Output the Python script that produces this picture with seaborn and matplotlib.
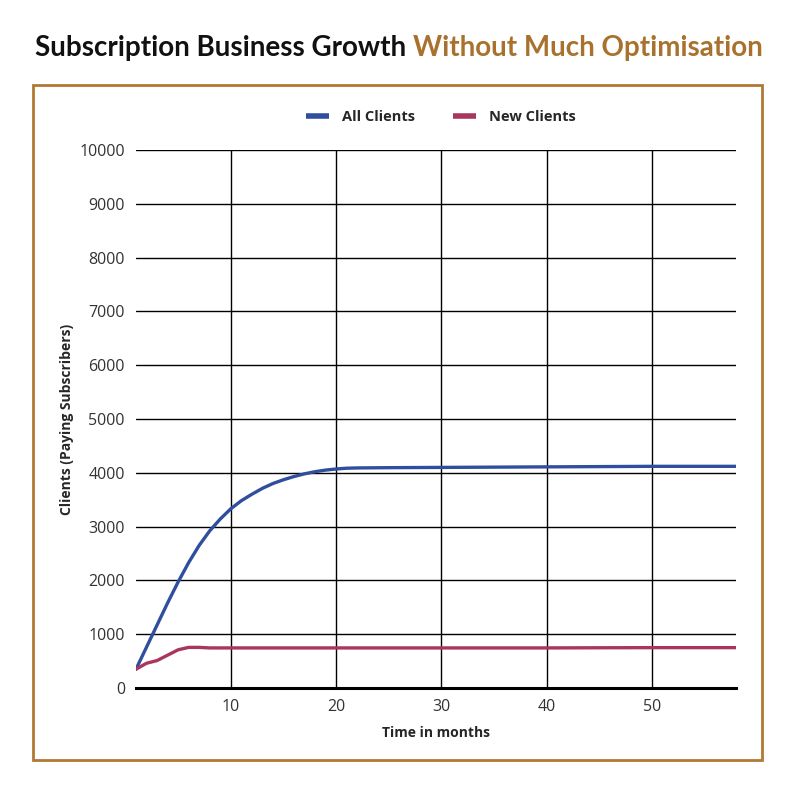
import numpy as np
import pandas as pd
import seaborn as sns
import matplotlib.pyplot as plt
from matplotlib.patches import Rectangle
from matplotlib.lines import Line2D

# Dados
meses = [1, 2, 3, 4, 5, 6, 7, 8, 9, 10, 11, 12, 13, 14, 15, 16, 17, 18, 19, 20,
         21, 22, 25, 30, 35, 40, 45, 50, 55, 58]
todos_clientes = [350, 760, 1170, 1580, 1970, 2330, 2650, 2920, 3140, 3330, 3480, 3600,
                  3710, 3800, 3870, 3930, 3980, 4020, 4050, 4070, 4085, 4090, 4095,
                  4100, 4105, 4110, 4115, 4120, 4120, 4120]
novos_clientes = [350, 460, 510, 610, 710, 755, 755, 745, 745, 745, 745, 745, 745, 745,
                  745, 745, 745, 745, 745, 745, 745, 745, 745, 745, 745, 745, 748,
                  750, 750, 750]

df = pd.DataFrame({
    "mes": meses * 2,
    "clientes": todos_clientes + novos_clientes,
    "serie": ["All Clients"] * len(meses) + ["New Clients"] * len(meses),
})

sns.set_style("white")
plt.rcParams["font.family"] = ["Open Sans", "DejaVu Sans"]

fig = plt.figure(figsize=(8, 7.93), dpi=100)
ax = fig.add_axes([0.17, 0.1324, 0.75, 0.6785])

cores = {"All Clients": "#2f4f9e", "New Clients": "#a8365e"}
sns.lineplot(data=df, x="mes", y="clientes", hue="serie", palette=cores,
             linewidth=2.4, ax=ax, legend=False)

ax.set_xlim(1, 58)
ax.set_ylim(0, 10000)
ax.set_xticks([10, 20, 30, 40, 50])
ax.set_yticks(range(0, 10001, 1000))
ax.grid(True, color="black", linewidth=1)
ax.set_axisbelow(True)
for lado in ["left", "right", "top"]:
    ax.spines[lado].set_visible(False)
ax.spines["bottom"].set_color("black")
ax.spines["bottom"].set_linewidth(2.2)
ax.tick_params(axis="both", length=0, labelsize=11.5, labelcolor="#333333", pad=8)
ax.set_xlabel("Time in months", fontsize=10, fontweight="bold", labelpad=8)
ax.set_ylabel("Clients (Paying Subscribers)", fontsize=10, fontweight="bold", labelpad=4)

# Legenda
handles = [Line2D([], [], color=cores[k], linewidth=4, solid_capstyle="butt") for k in cores]
fig.legend(handles, list(cores.keys()), loc="center", bbox_to_anchor=(0.551, 0.852),
           ncol=2, frameon=False, handlelength=1.6, handletextpad=0.9, columnspacing=2.6,
           prop={"weight": "bold", "size": 10.5})

# Moldura
fig.patches.append(Rectangle((33 / 800, 1 - 760 / 793), 729 / 800, 675 / 793,
                             transform=fig.transFigure, fill=False,
                             edgecolor="#b07a35", linewidth=2))

# Título em duas cores
t1 = fig.text(0.044, 0.94, "Subscription Business Growth ", fontsize=20,
              color="#111111", family=["Lato", "DejaVu Sans"], fontweight="bold", va="center")
fig.canvas.draw()
bb = t1.get_window_extent()
fig.text(bb.x1 / fig.bbox.width, 0.94, "Without Much Optimisation", fontsize=20,
         color="#a8722e", family=["Lato", "DejaVu Sans"], fontweight="bold", va="center")

fig.savefig("out.png", dpi=100, facecolor="white")
